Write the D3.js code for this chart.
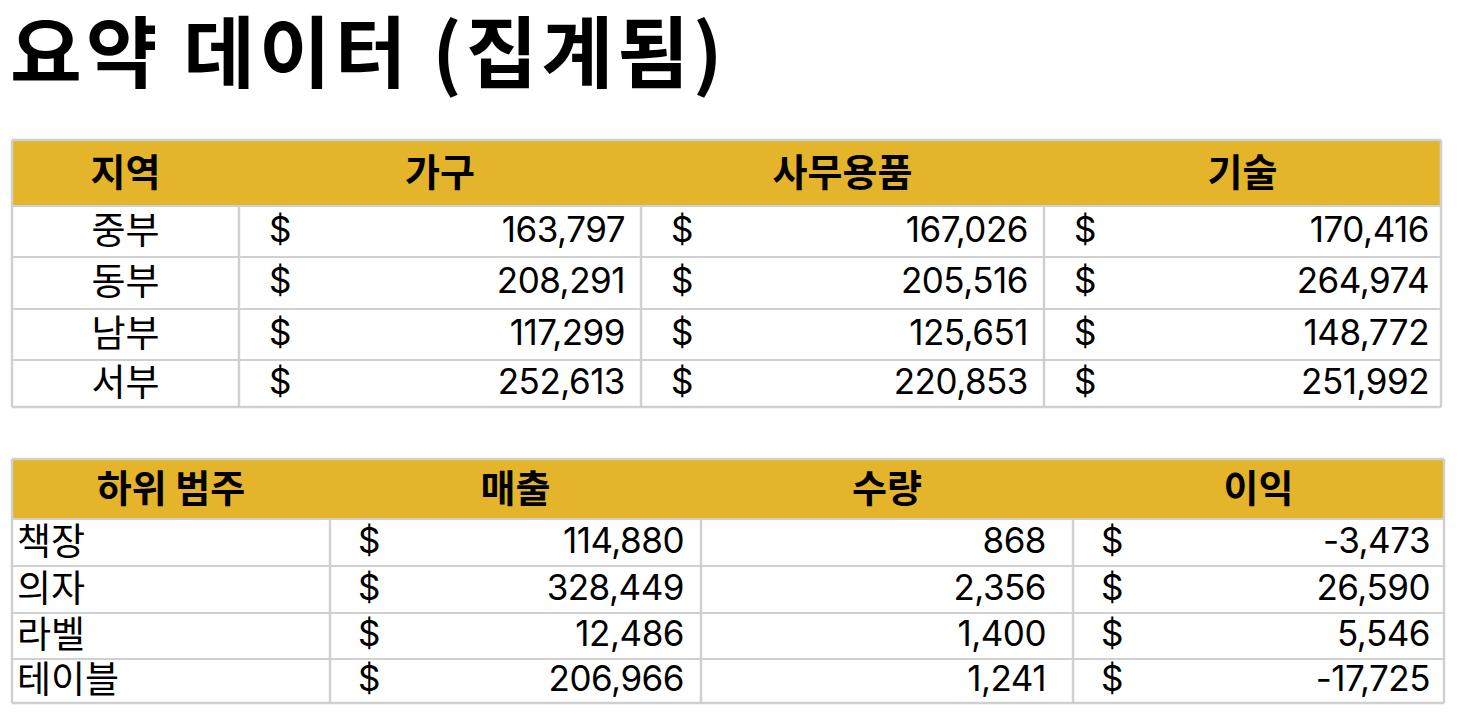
<!DOCTYPE html><html><head><meta charset="utf-8">
<script src="https://cdn.jsdelivr.net/npm/d3@7"></script>
<style>body{margin:0;background:#fff}</style></head><body>
<script>
const title = "요약 데이터 (집계됨)";
const headers1 = ["지역","가구","사무용품","기술"];
const regions = ["중부","동부","남부","서부"];
const furniture = [163797,208291,117299,252613];
const office = [167026,205516,125651,220853];
const tech = [170416,264974,148772,251992];
const headers2 = ["하위 범주","매출","수량","이익"];
const subcats = ["책장","의자","라벨","테이블"];
const sales = [114880,328449,12486,206966];
const qty = [868,2356,1400,1241];
const profit = [-3473,26590,5546,-17725];

const W=1472,H=720;
const svg=d3.select("body").append("svg").attr("width",W).attr("height",H);
const font="Inter, 'Noto Sans CJK KR', sans-serif";
const kfont="'Noto Sans CJK KR', sans-serif";
const fmt=v=>d3.format(",")(v).replace("−","-");
svg.append("text").attr("x",10).attr("y",82).attr("font-family",kfont).attr("font-weight",700)
  .attr("font-size",78).attr("letter-spacing",4).attr("fill","#000").text(title);

function table(cfg){
  const g=svg.append("g");
  const xs=cfg.xs, ys=cfg.ys;
  g.append("rect").attr("x",xs[0]).attr("y",ys[0]).attr("width",xs[xs.length-1]-xs[0]).attr("height",ys[1]-ys[0]).attr("fill","#E4B42B");
  ys.forEach((y,i)=>{g.append("line").attr("x1",xs[0]).attr("x2",xs[xs.length-1]).attr("y1",y).attr("y2",y).attr("stroke","#d0d0d0").attr("stroke-width",i==0||i==ys.length-1?2.5:2);});
  xs.forEach((x,i)=>{g.append("line").attr("x1",x).attr("x2",x).attr("y1",(i==0||i==xs.length-1)?ys[0]:ys[1]).attr("y2",ys[ys.length-1]).attr("stroke","#d0d0d0").attr("stroke-width",2.5);});
  cfg.headers.forEach((h,i)=>{
    g.append("text").attr("x",(xs[i]+xs[i+1])/2).attr("y",(ys[0]+ys[1])/2+13).attr("text-anchor","middle")
     .attr("font-family",kfont).attr("font-weight",700).attr("font-size",38).text(h);
  });
  cfg.rows.forEach((r,ri)=>{
    const yb=(ys[ri+1]+ys[ri+2])/2+10;
    r.forEach((c,ci)=>{
      const x0=xs[ci],x1=xs[ci+1];
      if(ci==0){
        g.append("text").attr("x",cfg.firstCenter?(x0+x1)/2:x0+5).attr("y",yb+2).attr("text-anchor",cfg.firstCenter?"middle":"start")
         .attr("font-family",kfont).attr("font-size",37).text(c);
      } else {
        if(cfg.dollar[ci]) g.append("text").attr("x",x0+cfg.dx).attr("y",yb).attr("font-family",font).attr("font-size",35).text("$");
        g.append("text").attr("x",x1-cfg.rpad[ci]).attr("y",yb).attr("text-anchor","end").attr("font-family",font).attr("font-size",35).attr("letter-spacing",-0.5).text(fmt(c));
      }
    });
  });
}
table({xs:[12,239,641,1044,1441],ys:[140,206,257,309,360,407],headers:headers1,firstCenter:true,dx:30,rpad:[0,16,16,12],dollar:[0,1,1,1],
  rows:regions.map((r,i)=>[r,furniture[i],office[i],tech[i]])});
table({xs:[12,330,701,1073,1444],ys:[459,519,566,613,659,703],headers:headers2,firstCenter:false,dx:28,rpad:[0,17,27,14],dollar:[0,1,0,1],
  rows:subcats.map((r,i)=>[r,sales[i],qty[i],profit[i]])});
</script></body></html>
